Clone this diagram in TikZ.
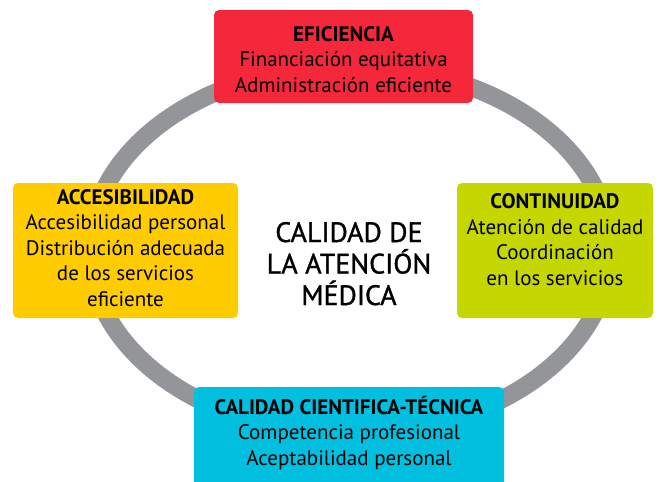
\documentclass[tikz,border=0pt]{standalone}
\usepackage{fontspec}
\setmainfont{PT Sans}
\newfontfamily\centrefont{PT Sans}[FakeBold=1.2]
\usepackage{xcolor}
\usetikzlibrary{positioning}
\definecolor{efired}{RGB}{244,40,58}
\definecolor{accyellow}{RGB}{255,204,0}
\definecolor{contgreen}{RGB}{197,214,0}
\definecolor{calblue}{RGB}{0,191,223}
\definecolor{ringgray}{RGB}{147,149,152}

\begin{document}
\begin{tikzpicture}[x=1pt, y=-1pt, every node/.style={font=\fontsize{21}{25.5}\selectfont},
  card/.style={rectangle, rounded corners=5pt, inner sep=0pt},
  cardtext/.style={anchor=base, align=center, inner sep=0pt}]
\useasboundingbox (0,0) rectangle (659,482);

% Ring
\draw[ringgray, line width=18pt] (350,250) ellipse [x radius=260, y radius=184];

% Eficiencia
\node[card, fill=efired, minimum width=259pt, minimum height=93pt] (efic) at (343.5,56.5) {};
\node[cardtext] (efictext) at (343.5,92) {\textbf{EFICIENCIA}\\Financiación equitativa\\Administración eficiente};

% Accesibilidad
\node[card, fill=accyellow, minimum width=225pt, minimum height=135pt] (acces) at (125.5,250.5) {};
\node[cardtext] (accestext) at (125.5,306) {\textbf{ACCESIBILIDAD}\\Accesibilidad personal\\Distribución adecuada\\de los servicios\\eficiente};

% Continuidad
\node[card, fill=contgreen, minimum width=196pt, minimum height=135pt] (contin) at (555,250.5) {};
\node[cardtext] (contintext) at (555,285) {\textbf{CONTINUIDAD}\\Atención de calidad\\Coordinación\\en los servicios};

% Calidad cientifica-tecnica
\node[card, fill=calblue, minimum width=310pt, minimum height=108pt] (cient) at (349,441) {};
\node[cardtext] (cienttext) at (349,465) {\textbf{CALIDAD CIENTIFICA-TÉCNICA}\\Competencia profesional\\Aceptabilidad personal};

% Centre
\node[cardtext, font=\centrefont\fontsize{28}{31.5}\selectfont] (centre) at (349,305) {CALIDAD DE\\LA ATENCIÓN\\MÉDICA};
\end{tikzpicture}
\end{document}
